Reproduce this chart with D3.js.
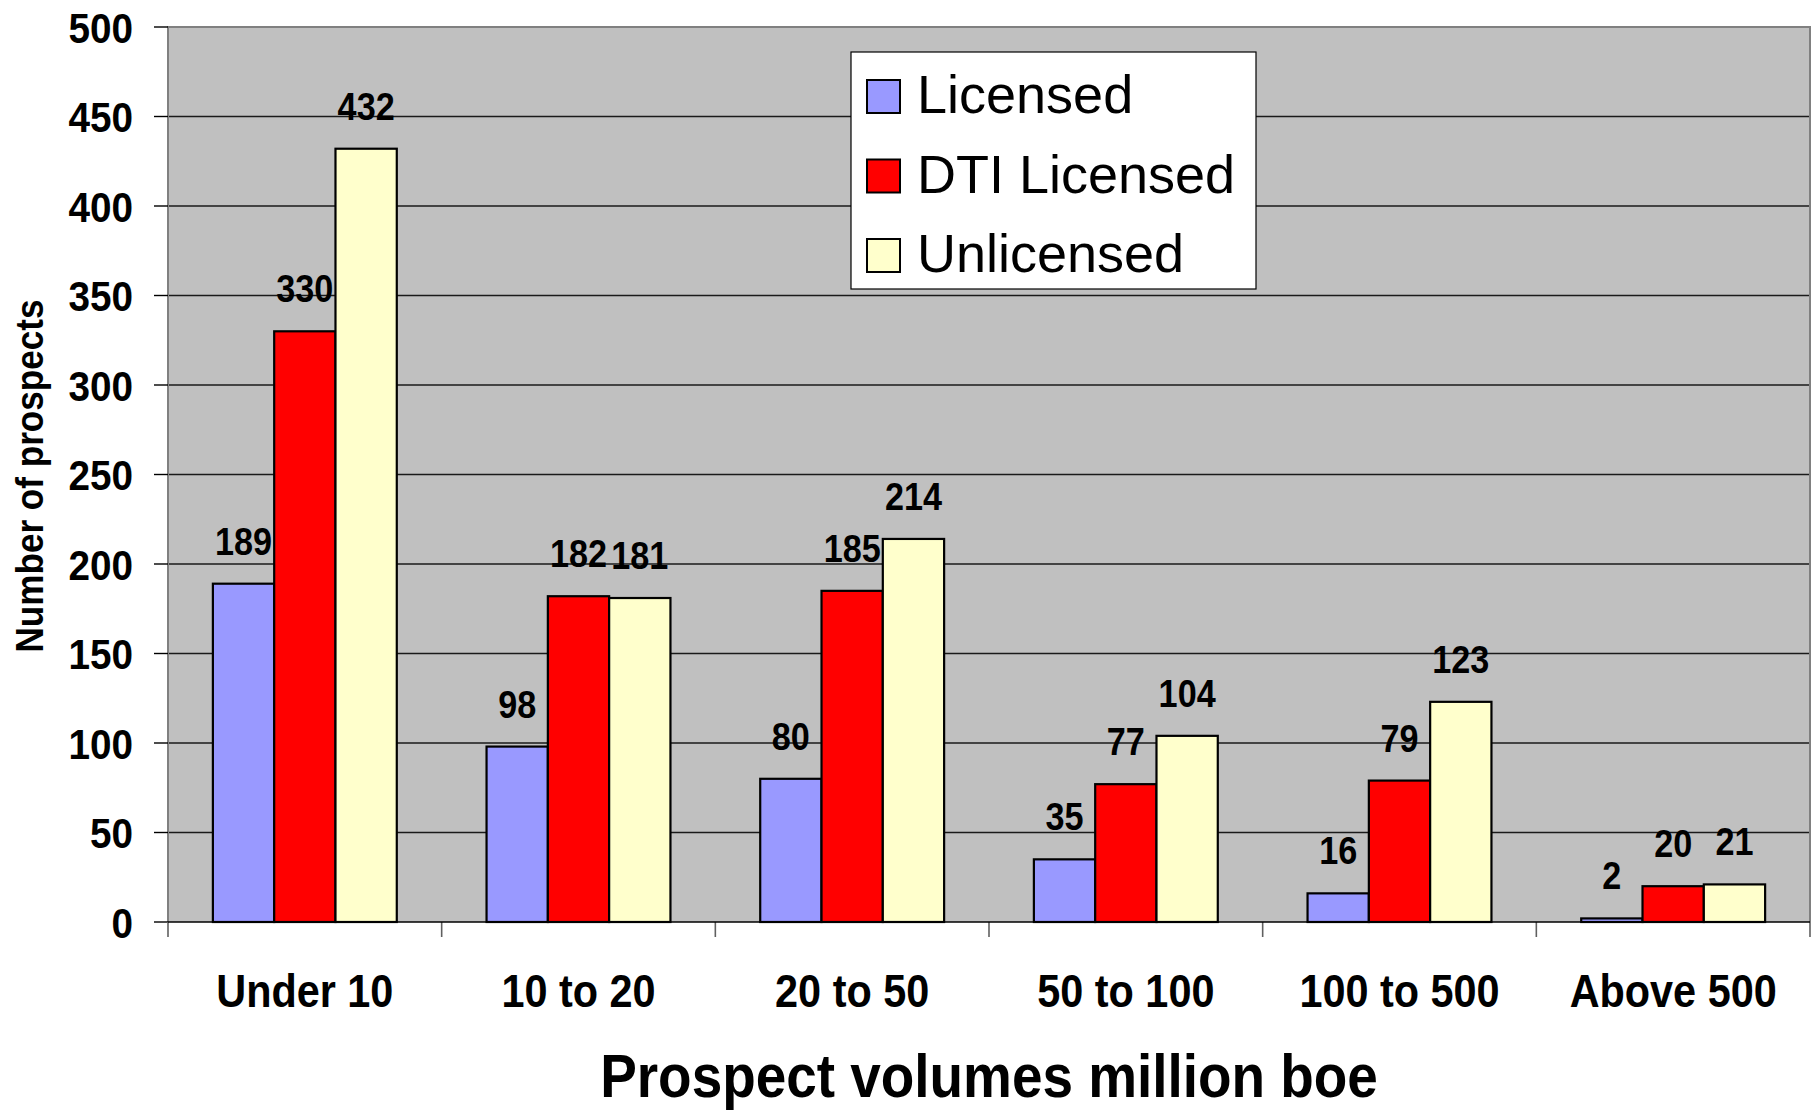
<!DOCTYPE html>
<html>
<head>
<meta charset="utf-8">
<script src="https://cdn.jsdelivr.net/npm/d3@7"></script>
<style>
    body { margin: 0; background: #ffffff; }
    svg { display: block; }
    text { font-family: "Liberation Sans", Arial, sans-serif; fill: #000000; }
</style>
</head>
<body>
<svg id="chart" width="1820" height="1110"></svg>
<script>
var categories = ["Under 10", "10 to 20", "20 to 50", "50 to 100", "100 to 500", "Above 500"];
var seriesNames = ["Licensed", "DTI Licensed", "Unlicensed"];
var licensed = [189, 98, 80, 35, 16, 2];
var dtiLicensed = [330, 182, 185, 77, 79, 20];
var unlicensed = [432, 181, 214, 104, 123, 21];
var yTicks = [0, 50, 100, 150, 200, 250, 300, 350, 400, 450, 500];
var seriesColors = ["#9999ff", "#ff0000", "#ffffcc"];

var seriesValues = [licensed, dtiLicensed, unlicensed];
var rows = [];
categories.forEach(function(cat, i) {
    seriesNames.forEach(function(name, j) {
        rows.push({ category: cat, series: name, value: seriesValues[j][i], color: seriesColors[j] });
    });
});

var plot = { left: 168, right: 1810, top: 27, bottom: 922 };
var squeeze = 0.9; // the original bold text is a bit condensed

var svg = d3.select("#chart");

var x0 = d3.scaleBand().domain(categories).range([plot.left, plot.right]).paddingInner(0).paddingOuter(0);
var bw = x0.bandwidth();
var gw = bw * 0.672;
var x1 = d3.scaleBand().domain(seriesNames).range([(bw - gw) / 2, (bw + gw) / 2]).padding(0);
var y = d3.scaleLinear().domain([0, 500]).range([plot.bottom, plot.top]);

function squeezedText(parent, x, yPos, str, size, anchor, extra) {
    return parent.append("text")
        .attr("transform", "translate(" + x + "," + yPos + ")" + (extra || "") + " scale(" + squeeze + ",1)")
        .attr("text-anchor", anchor)
        .style("font-size", size + "px")
        .style("font-weight", "bold")
        .text(str);
}

// plot background
svg.append("rect")
    .attr("x", plot.left).attr("y", plot.top)
    .attr("width", plot.right - plot.left).attr("height", plot.bottom - plot.top)
    .attr("fill", "#c0c0c0");

// gridlines
svg.append("g").selectAll("line")
    .data(yTicks.filter(function(t) { return t > 0 && t < 500; }))
    .join("line")
    .attr("x1", plot.left).attr("x2", plot.right)
    .attr("y1", function(d) { return y(d); }).attr("y2", function(d) { return y(d); })
    .attr("stroke", "#1a1a1a").attr("stroke-width", 1.4);

// border top/right/left
svg.append("path")
    .attr("d", "M" + plot.left + "," + plot.bottom + "V" + plot.top + "H" + plot.right + "V" + plot.bottom)
    .attr("fill", "none").attr("stroke", "#808080").attr("stroke-width", 2);

// y axis ticks + labels
var yAxis = svg.append("g");
yAxis.selectAll("line")
    .data(yTicks)
    .join("line")
    .attr("x1", plot.left - 14).attr("x2", plot.left)
    .attr("y1", function(d) { return y(d); }).attr("y2", function(d) { return y(d); })
    .attr("stroke", "#000000").attr("stroke-width", 1.4);
yTicks.forEach(function(t) {
    squeezedText(yAxis, 133, y(t) + 15.5, String(t), 43, "end");
});

// x axis ticks at category edges
var edges = categories.map(function(c) { return x0(c); }).concat([plot.right]);
svg.append("g").selectAll("line")
    .data(edges)
    .join("line")
    .attr("x1", function(d) { return d; }).attr("x2", function(d) { return d; })
    .attr("y1", plot.bottom).attr("y2", plot.bottom + 15)
    .attr("stroke", "#606060").attr("stroke-width", 1.6);

// bars
svg.append("g").selectAll("rect")
    .data(rows)
    .join("rect")
    .attr("x", function(d) { return x0(d.category) + x1(d.series); })
    .attr("y", function(d) { return y(d.value); })
    .attr("width", x1.bandwidth())
    .attr("height", function(d) { return y(0) - y(d.value); })
    .attr("fill", function(d) { return d.color; })
    .attr("stroke", "#000000").attr("stroke-width", 2.2);

// x axis line
svg.append("line")
    .attr("x1", plot.left).attr("x2", plot.right)
    .attr("y1", plot.bottom).attr("y2", plot.bottom)
    .attr("stroke", "#000000").attr("stroke-width", 1.6);

// value labels
var labels = svg.append("g");
rows.forEach(function(d) {
    var cx = x0(d.category) + x1(d.series) + x1.bandwidth() / 2;
    squeezedText(labels, cx, y(d.value) - 29, String(d.value), 38, "middle");
});

// category labels
var catLabels = svg.append("g");
categories.forEach(function(c) {
    squeezedText(catLabels, x0(c) + bw / 2, 1007, c, 46, "middle");
});

// axis titles
squeezedText(svg, (plot.left + plot.right) / 2, 1097, "Prospect volumes million boe", 61, "middle");
squeezedText(svg, 43, 476, "Number of prospects", 39, "middle", " rotate(-90)");

// legend
var legend = svg.append("g");
legend.append("rect")
    .attr("x", 851).attr("y", 52).attr("width", 405).attr("height", 237)
    .attr("fill", "#ffffff").attr("stroke", "#000000").attr("stroke-width", 1.2);
var legendItems = legend.selectAll("g.item")
    .data(seriesNames)
    .join("g")
    .attr("class", "item")
    .attr("transform", function(d, i) { return "translate(867," + (96.5 + i * 79.5) + ")"; });
legendItems.append("rect")
    .attr("x", 0).attr("y", -16.5).attr("width", 33).attr("height", 33)
    .attr("fill", function(d, i) { return seriesColors[i]; })
    .attr("stroke", "#000000").attr("stroke-width", 2);
legendItems.append("text")
    .attr("x", 50).attr("y", 16.5)
    .style("font-size", "54px")
    .text(function(d) { return d; });
</script>
</body>
</html>
